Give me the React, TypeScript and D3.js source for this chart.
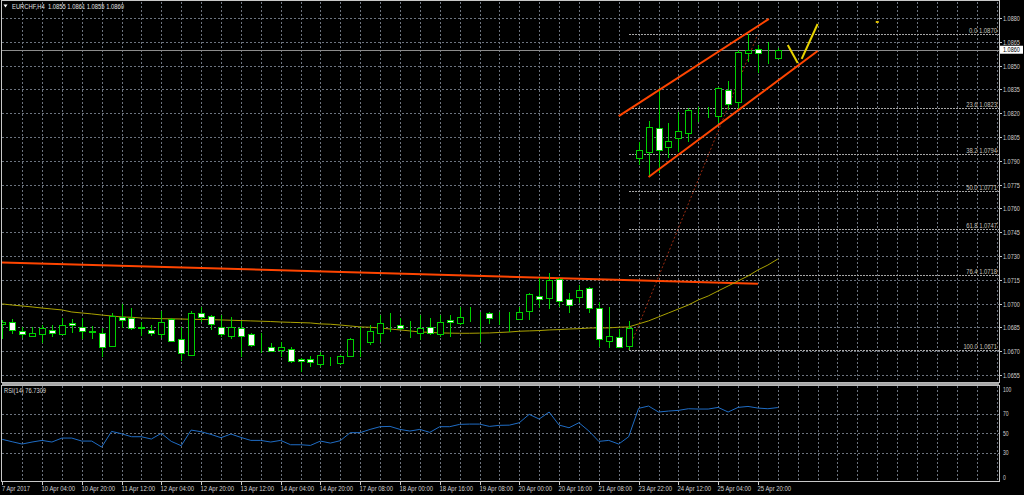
import React, { useEffect, useRef } from 'react';
import * as d3 from 'd3';

const W = 1024;
const H = 495;

// chart header texts
const symbolTitle = 'EURCHF,H4  1.0855 1.0861 1.0855 1.0860';
const rsiTitle = 'RSI(14) 76.7309';

// H4 candles, bar 0 = 7 Apr 2017 16:00 ... bar 78 = 26 Apr 04:00
const opens = [
  1.06872, 1.06884, 1.06828, 1.06796, 1.06809, 1.06834, 1.06809, 1.06878, 1.06853, 1.06821,
  1.06815, 1.06733, 1.06916, 1.06909, 1.06846, 1.06834, 1.06809, 1.06903, 1.06777, 1.06676,
  1.06941, 1.06922, 1.06853, 1.06796, 1.06846, 1.06809, 1.06743, 1.06727, 1.06708, 1.06714,
  1.06651, 1.06651, 1.06620, 1.06637, 1.06626, 1.06670, 1.06768, 1.06758, 1.06815, 1.06882,
  1.06865, 1.06832, 1.06815, 1.06853, 1.06809, 1.06897, 1.06878, 1.06920, 1.06920, 1.06941,
  1.06920, 1.06920, 1.06903, 1.06954, 1.07048, 1.07035, 1.07155, 1.07029, 1.07042, 1.07098,
  1.06972, 1.06765, 1.06790, 1.06733, 1.07918, 1.07956, 1.08107, 1.07987, 1.08044, 1.08075,
  1.08199, 1.08193, 1.08182, 1.08346, 1.08271, 1.08579, 1.08605, 1.08565, 1.08550,
];
const highs = [
  1.06897, 1.06903, 1.06853, 1.06853, 1.06865, 1.06865, 1.06909, 1.06903, 1.06909, 1.06859,
  1.06846, 1.06941, 1.06998, 1.06972, 1.06884, 1.06865, 1.06954, 1.06909, 1.06853, 1.06954,
  1.06979, 1.06928, 1.06928, 1.06916, 1.06891, 1.06815, 1.06815, 1.06752, 1.06758, 1.06727,
  1.06657, 1.06670, 1.06695, 1.06664, 1.06676, 1.06783, 1.06853, 1.06865, 1.06928, 1.06941,
  1.06909, 1.06891, 1.06928, 1.06909, 1.06928, 1.06928, 1.06979, 1.06979, 1.06947, 1.06947,
  1.06947, 1.06947, 1.06979, 1.07067, 1.07161, 1.07193, 1.07161, 1.07067, 1.07117, 1.07105,
  1.07010, 1.06979, 1.06840, 1.06891, 1.08019, 1.08151, 1.08359, 1.08138, 1.08208, 1.08233,
  1.08239, 1.08239, 1.08365, 1.08403, 1.08598, 1.08699, 1.08630, 1.08649, 1.08610,
];
const lows = [
  1.06777, 1.06809, 1.06783, 1.06790, 1.06752, 1.06790, 1.06802, 1.06815, 1.06777, 1.06777,
  1.06664, 1.06727, 1.06846, 1.06834, 1.06796, 1.06796, 1.06783, 1.06758, 1.06639, 1.06670,
  1.06884, 1.06834, 1.06790, 1.06777, 1.06664, 1.06727, 1.06689, 1.06695, 1.06664, 1.06626,
  1.06569, 1.06601, 1.06601, 1.06607, 1.06613, 1.06664, 1.06664, 1.06739, 1.06758, 1.06821,
  1.06834, 1.06783, 1.06771, 1.06802, 1.06790, 1.06790, 1.06865, 1.06884, 1.06758, 1.06872,
  1.06865, 1.06821, 1.06897, 1.06897, 1.06972, 1.06966, 1.06979, 1.06941, 1.07004, 1.06941,
  1.06727, 1.06720, 1.06720, 1.06708, 1.07874, 1.07798, 1.07823, 1.07918, 1.07956, 1.08019,
  1.08145, 1.08170, 1.08138, 1.08220, 1.08227, 1.08523, 1.08453, 1.08510, 1.08550,
];
const closes = [
  1.06884, 1.06834, 1.06809, 1.06815, 1.06846, 1.06815, 1.06865, 1.06865, 1.06828, 1.06828,
  1.06727, 1.06922, 1.06897, 1.06846, 1.06853, 1.06815, 1.06884, 1.06765, 1.06689, 1.06941,
  1.06916, 1.06872, 1.06809, 1.06853, 1.06796, 1.06739, 1.06746, 1.06702, 1.06727, 1.06639,
  1.06639, 1.06632, 1.06676, 1.06641, 1.06670, 1.06777, 1.06773, 1.06828, 1.06878, 1.06886,
  1.06846, 1.06836, 1.06846, 1.06815, 1.06884, 1.06884, 1.06916, 1.06924, 1.06924, 1.06909,
  1.06924, 1.06924, 1.06947, 1.07061, 1.07029, 1.07149, 1.07017, 1.06991, 1.07086, 1.06972,
  1.06777, 1.06796, 1.06727, 1.06846, 1.07968, 1.08113, 1.07968, 1.08025, 1.08088, 1.08220,
  1.08203, 1.08197, 1.08359, 1.08258, 1.08586, 1.08598, 1.08579, 1.08569, 1.08600,
];

// moving average drawn on the price chart
const maValues = [
  1.06998, 1.06991, 1.06985, 1.06979, 1.06972, 1.06966, 1.06960, 1.06947, 1.06941, 1.06935,
  1.06928, 1.06922, 1.06916, 1.06914, 1.06909, 1.06907, 1.06905, 1.06904, 1.06903, 1.06901,
  1.06900, 1.06899, 1.06897, 1.06895, 1.06893, 1.06891, 1.06889, 1.06887, 1.06884, 1.06882,
  1.06880, 1.06878, 1.06872, 1.06870, 1.06865, 1.06859, 1.06853, 1.06851, 1.06846, 1.06840,
  1.06834, 1.06828, 1.06821, 1.06819, 1.06815, 1.06814, 1.06813, 1.06813, 1.06814, 1.06815,
  1.06818, 1.06821, 1.06826, 1.06828, 1.06830, 1.06834, 1.06836, 1.06840, 1.06842, 1.06846,
  1.06847, 1.06847, 1.06851, 1.06853, 1.06872, 1.06891, 1.06916, 1.06941, 1.06966, 1.06991,
  1.07023, 1.07048, 1.07080, 1.07111, 1.07143, 1.07174, 1.07212, 1.07243, 1.07281,
];

// RSI(14)
const rsiValues = [
  43.8, 41.3, 38.9, 41.0, 42.7, 41.0, 45.1, 45.1, 42.0, 42.0,
  35.8, 52.0, 49.6, 46.5, 46.5, 44.1, 50.0, 41.7, 37.2, 53.4,
  51.7, 48.9, 45.5, 49.3, 45.8, 42.7, 42.7, 41.0, 42.7, 38.2,
  38.2, 37.5, 42.0, 39.9, 42.4, 50.7, 50.7, 54.1, 56.9, 57.2,
  54.1, 52.4, 54.1, 51.0, 56.9, 56.9, 59.3, 59.6, 59.6, 57.2,
  58.3, 58.5, 61.0, 69.7, 64.8, 72.1, 58.6, 55.8, 61.0, 52.4,
  41.7, 42.7, 38.9, 46.5, 75.9, 78.3, 72.1, 73.1, 73.8, 75.5,
  75.2, 75.2, 76.9, 72.1, 76.9, 77.9, 76.2, 75.5, 76.7309,
];

// time axis labels, one every 4 bars
const timeLabels = [
  '7 Apr 2017', '10 Apr 04:00', '10 Apr 20:00', '11 Apr 12:00', '12 Apr 04:00',
  '12 Apr 20:00', '13 Apr 12:00', '14 Apr 04:00', '14 Apr 20:00', '17 Apr 08:00',
  '18 Apr 00:00', '18 Apr 16:00', '19 Apr 08:00', '20 Apr 00:00', '20 Apr 16:00',
  '21 Apr 08:00', '23 Apr 22:00', '24 Apr 12:00', '25 Apr 04:00', '25 Apr 20:00',
];
const labelEvery = 4;

const priceTicks = [
  1.0880, 1.0865, 1.0850, 1.0835, 1.0820, 1.0805, 1.0790, 1.0775,
  1.0760, 1.0745, 1.0730, 1.0715, 1.0700, 1.0685, 1.0670, 1.0655,
];
const rsiTicks = [100, 70, 50, 30, 0];
const rsiGrid = [70, 50, 30];
const currentPrice = 1.0860;

// fibonacci retracement
const fibRatios = ['0.0', '23.6', '38.2', '50.0', '61.8', '76.4', '100.0'];
const fibPrices = [1.0870, 1.0823, 1.0794, 1.0771, 1.0747, 1.0718, 1.0671];
const fibAnchor: [number, number][] = [[63, 1.0671], [76, 1.0870]];

// hand drawn objects: [bar, price]
const resistanceLine: [number, number][] = [[-0.2, 1.07260], [76, 1.07125]];
const channelUpper: [number, number][] = [[62.0, 1.08182], [77.1, 1.08794]];
const channelLower: [number, number][] = [[65.0, 1.07798], [82.0, 1.08592]];
const yellowDown: [number, number][] = [[79.0, 1.08630], [80.0, 1.08516]];
const yellowUp: [number, number][] = [[80.4, 1.08542], [82.0, 1.08762]];
const yellowDot: [number, number] = [88, 1.08775];

const FONT = '"Liberation Sans", Arial, sans-serif';

export default function App() {
  const ref = useRef<SVGSVGElement>(null);

  useEffect(() => {
    const svg = d3.select(ref.current);
    svg.selectAll('*').remove();

    const left = 2, right = 999;
    const mainTop = 1.5, mainBottom = 382.5;
    const rsiTop = 385.5, rsiBottom = 481.5;

    const x: any = d3.scaleLinear().domain([0, 100]).range([2.2, 2.2 + 100 * 9.944]);
    const y: any = d3.scaleLinear().domain([1.0655, 1.0880]).range([375, 18]);
    const ry: any = d3.scaleLinear().domain([0, 100]).range([481.6, 385.1]);

    const px = (v: number) => Math.round(v) + 0.5;
    const gridColor = '#6c737e';

    svg.append('rect').attr('width', W).attr('height', H).attr('fill', '#000');

    const defs = svg.append('defs');
    defs.append('clipPath').attr('id', 'mainClip').append('rect')
      .attr('x', left).attr('y', mainTop).attr('width', right - left).attr('height', mainBottom - mainTop);

    const label = (g: any, tx: number, ty: number, str: string, anchor: string, color: string, len?: number) => {
      g.append('text')
        .attr('x', tx).attr('y', ty)
        .attr('text-anchor', anchor)
        .attr('font-family', FONT)
        .attr('font-size', 6.5)
        .attr('fill', color)
        .attr('textLength', len || str.length * 2.8)
        .attr('lengthAdjust', 'spacingAndGlyphs')
        .style('white-space', 'pre')
        .text(str);
    };

    // grid
    const grid = svg.append('g').attr('stroke', gridColor).attr('stroke-dasharray', '2,2')
      .attr('shape-rendering', 'crispEdges');
    const gridBars = d3.range(2, 101, 2);
    gridBars.forEach((b: number) => {
      const gx = px(x(b));
      if (gx >= right) return;
      grid.append('line').attr('x1', gx).attr('x2', gx).attr('y1', mainTop).attr('y2', mainBottom);
      grid.append('line').attr('x1', gx).attr('x2', gx).attr('y1', rsiTop).attr('y2', rsiBottom);
    });
    priceTicks.forEach((p: number) => {
      const gy = px(y(p));
      grid.append('line').attr('x1', left).attr('x2', right).attr('y1', gy).attr('y2', gy);
    });
    rsiGrid.forEach((v: number) => {
      const gy = px(ry(v));
      grid.append('line').attr('x1', left).attr('x2', right).attr('y1', gy).attr('y2', gy);
    });

    const main = svg.append('g').attr('clip-path', 'url(#mainClip)');

    // fibonacci levels
    const fx0 = x(fibAnchor[0][0]);
    fibPrices.forEach((p: number, i: number) => {
      const fy = px(y(p));
      main.append('line').attr('x1', fx0).attr('x2', right).attr('y1', fy).attr('y2', fy)
        .attr('stroke', '#a6a6a6').attr('stroke-dasharray', '2,1').attr('shape-rendering', 'crispEdges');
      label(main, right - 2, fy - 2, `${fibRatios[i]} ${p.toFixed(4)}`, 'end', '#c8c4bc');
    });
    main.append('line')
      .attr('x1', x(fibAnchor[0][0])).attr('y1', y(fibAnchor[0][1]))
      .attr('x2', x(fibAnchor[1][0])).attr('y2', y(fibAnchor[1][1]))
      .attr('stroke', '#9a2a10').attr('stroke-dasharray', '2,2');

    // current price line
    main.append('line').attr('x1', left).attr('x2', right)
      .attr('y1', px(y(currentPrice))).attr('y2', px(y(currentPrice)))
      .attr('stroke', '#8c8c8c').attr('shape-rendering', 'crispEdges');

    // resistance line
    const seg = (pts: [number, number][], color: string, w: number) => {
      main.append('line')
        .attr('x1', x(pts[0][0])).attr('y1', y(pts[0][1]))
        .attr('x2', x(pts[1][0])).attr('y2', y(pts[1][1]))
        .attr('stroke', color).attr('stroke-width', w);
    };
    seg(resistanceLine, '#ff4500', 2);

    // moving average
    const maLine: any = d3.line<number>().x((d: number, i: number) => x(i)).y((d: number) => y(d));
    main.append('path').datum(maValues).attr('d', maLine)
      .attr('fill', 'none').attr('stroke', '#aaa200').attr('stroke-width', 1);

    // candles
    const green = '#00d000';
    const candles = main.append('g').attr('shape-rendering', 'crispEdges');
    opens.forEach((o: number, i: number) => {
      const c = closes[i];
      const cx = Math.round(x(i));
      candles.append('line')
        .attr('x1', cx + 0.5).attr('x2', cx + 0.5)
        .attr('y1', y(highs[i])).attr('y2', y(lows[i]))
        .attr('stroke', green);
      const yTop = Math.round(y(Math.max(o, c))) + 0.5;
      const yBot = Math.round(y(Math.min(o, c))) + 0.5;
      candles.append('rect')
        .attr('x', cx - 2.5).attr('width', 6)
        .attr('y', yTop).attr('height', Math.max(yBot - yTop, 0))
        .attr('fill', c < o ? '#ffffff' : '#000000')
        .attr('stroke', green);
    });

    // channel and yellow strokes
    seg(channelUpper, '#ff4500', 2);
    seg(channelLower, '#ff4500', 2);
    seg(yellowDown, '#e8d400', 2);
    seg(yellowUp, '#e8d400', 2);
    main.append('rect').attr('x', x(yellowDot[0]) - 1.5).attr('y', y(yellowDot[1]) - 1)
      .attr('width', 3).attr('height', 2).attr('fill', '#e0c000');

    // RSI line
    const rsiLine: any = d3.line<number>().x((d: number, i: number) => x(i)).y((d: number) => ry(d));
    svg.append('path').datum(rsiValues).attr('d', rsiLine)
      .attr('fill', 'none').attr('stroke', '#1f6cc4').attr('stroke-width', 1);

    // frames
    const frame = svg.append('g').attr('fill', 'none').attr('stroke', '#c8c8c8')
      .attr('shape-rendering', 'crispEdges');
    frame.append('rect').attr('x', 1.5).attr('y', 0.5).attr('width', right - 1.5).attr('height', mainBottom - 0.5);
    frame.append('rect').attr('x', 1.5).attr('y', rsiTop).attr('width', right - 1.5).attr('height', rsiBottom - rsiTop);
    svg.append('rect').attr('x', 2).attr('y', 382.5).attr('width', right - 2).attr('height', 3)
      .attr('fill', '#a8a8a8');

    // price axis
    const axis = svg.append('g');
    priceTicks.forEach((p: number) => {
      const ty = px(y(p));
      axis.append('line').attr('x1', right).attr('x2', right + 3).attr('y1', ty).attr('y2', ty)
        .attr('stroke', '#c8c8c8').attr('shape-rendering', 'crispEdges');
      label(axis, 1003, ty + 2.3, p.toFixed(4), 'start', '#d0d0d0');
    });
    const cy = y(currentPrice);
    axis.append('rect').attr('x', 1000).attr('y', cy - 4).attr('width', 23).attr('height', 8)
      .attr('fill', '#ffffff');
    label(axis, 1003, cy + 2.3, currentPrice.toFixed(4), 'start', '#000000');

    // RSI axis
    rsiTicks.forEach((v: number) => {
      let ty = ry(v) + 2.3;
      if (v === 100) ty += 4.5;
      if (v === 0) ty -= 3.5;
      label(axis, 1003, ty, String(v), 'start', '#d0d0d0');
    });

    // time axis
    timeLabels.forEach((t: string, i: number) => {
      const bx = px(x(i * labelEvery));
      axis.append('line').attr('x1', bx).attr('x2', bx).attr('y1', rsiBottom).attr('y2', rsiBottom + 3.5)
        .attr('stroke', '#c8c8c8').attr('shape-rendering', 'crispEdges');
      label(axis, i === 0 ? 2 : bx - 1, 490.5, t, 'start', '#d0d0d0');
    });

    // titles
    axis.append('path').attr('d', 'M3.5,4.5 L7.5,4.5 L5.5,7.5 Z').attr('fill', '#ffffff');
    label(axis, 12, 8.8, symbolTitle, 'start', '#e0e0e0', 112);
    label(axis, 4, 392.8, rsiTitle, 'start', '#d8d8d8', 42);
  }, []);

  return (
    <svg
      ref={ref}
      width={W}
      height={H}
      style={{ position: 'absolute', left: 0, top: 0, display: 'block', background: '#000' }}
    />
  );
}
